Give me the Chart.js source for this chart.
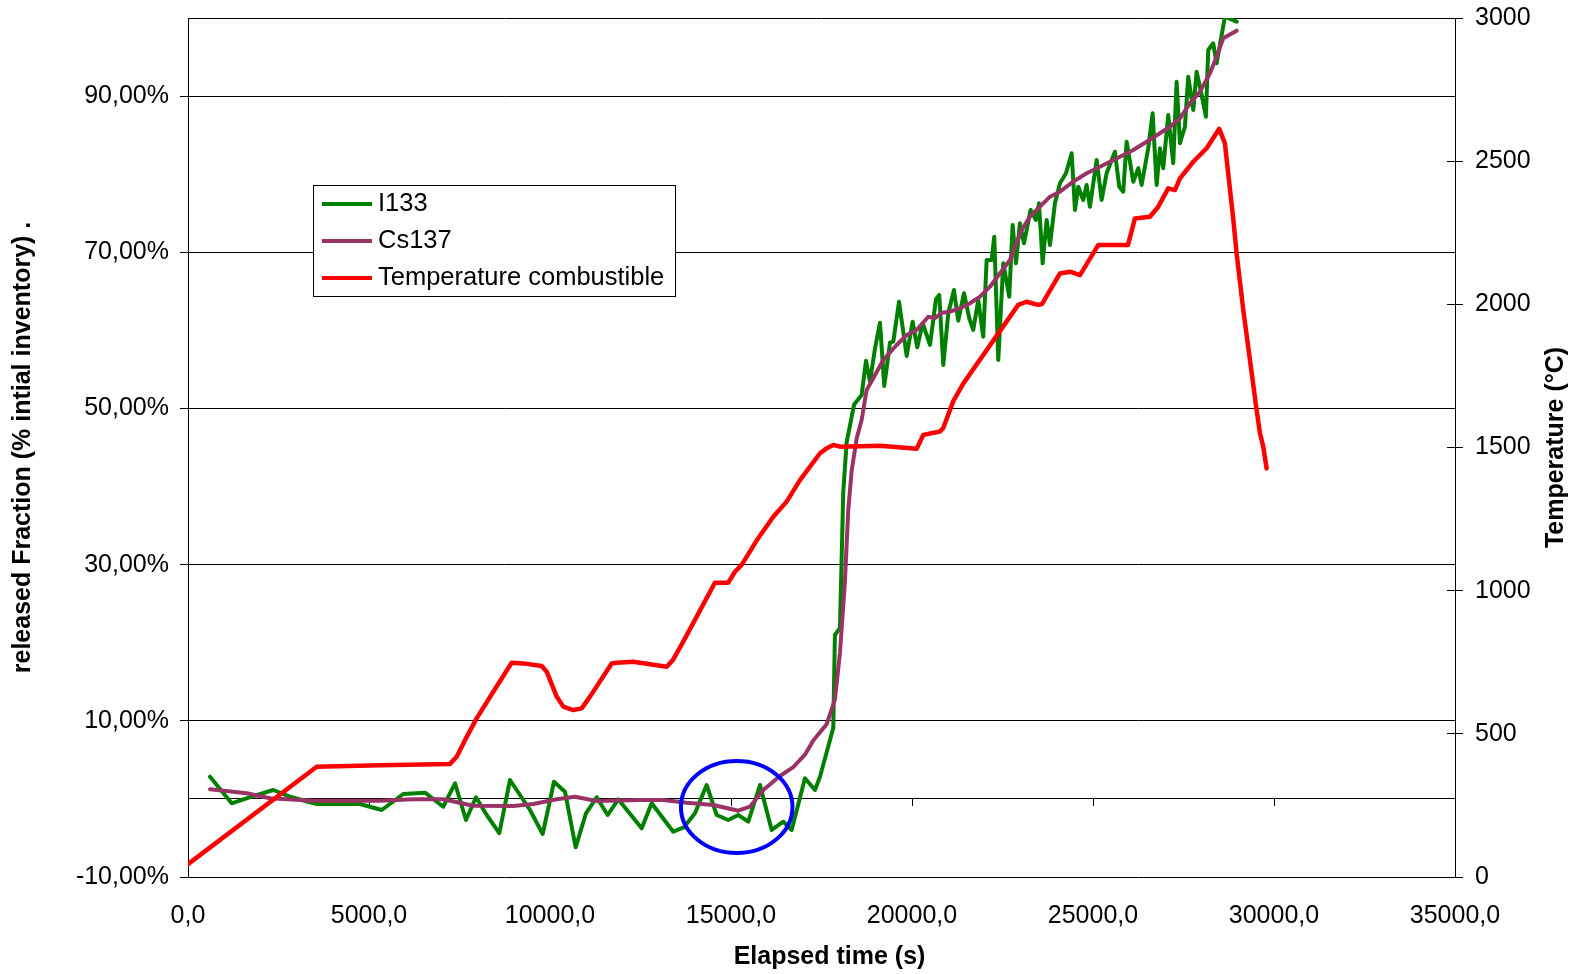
<!DOCTYPE html>
<html>
<head>
<meta charset="utf-8">
<script src="https://cdn.jsdelivr.net/npm/chart.js"></script>
<style>
html,body{margin:0;padding:0;background:#fff;}
#wrap{position:relative;width:1576px;height:974px;}
canvas{display:block;}
</style>
</head>
<body>
<div id="wrap"><canvas id="c" width="1576" height="974"></canvas></div>
<script>
// ---------- DATA ----------
const seriesNames = ['I133', 'Cs137', 'Temperature combustible'];

const i133Time = [608,1207,1760,2356,2818,3555,4751,5351,5947,6547,
  7052,7376,7679,7956,8251,8599,8895,9447,9798,10110,
  10414,10709,10994,11289,11593,11886,12532,12808,13405,13700,
  14005,14327,14604,14924,15200,15477,15801,16123,16444,16676,
  17043,17320,17458,17825,17871,18010,18101,18195,18400,18609,
  18729,18840,18978,19116,19234,19392,19483,19641,19853,20018,
  20145,20294,20497,20662,20753,20864,21002,21159,21278,21436,
  21582,21692,21830,21968,22062,22200,22272,22383,22521,22686,
  22780,22871,22982,23093,23277,23425,23508,23609,23720,23812,
  23949,24088,24254,24410,24502,24593,24730,24824,24915,25101,
  25239,25376,25605,25725,25835,25929,26112,26250,26343,26526,
  26647,26758,26849,26940,27078,27216,27310,27402,27539,27631,
  27770,27863,28001,28119,28183,28321,28415,28644,28968];
const i133Values = [2.84,-0.56,0.28,1.14,0.28,-0.65,-0.65,-1.42,0.63,0.80,
  -1.0,2.0,-2.70,0.21,-2.06,-4.37,2.42,-1.42,-4.49,2.2,
  0.92,-6.20,-1.84,0.21,-2.06,-0.05,-3.76,-0.56,-4.2,-3.64,
  -1.84,1.78,-2.06,-2.70,-2.06,-2.92,1.78,-3.98,-2.92,-3.98,
  2.64,1.14,2.84,9.09,20.99,21.9,39.29,45.69,50.5,51.73,
  56.12,53.43,57.7,60.98,52.88,58.42,58.55,63.67,56.72,61.11,
  57.83,60.91,58.13,63.98,64.53,55.57,62.19,65.17,61.24,64.75,
  61.55,60.05,63.89,59.19,69.01,69.01,72.0,56.21,68.59,64.31,
  73.5,68.59,73.71,71.15,75.42,74.14,76.27,68.59,74.14,70.93,
  76.27,78.84,80.12,82.68,75.42,78.4,76.7,78.62,75.84,81.82,
  76.7,80.12,82.88,78.4,77.76,84.16,79.04,80.76,78.62,83.32,
  87.8,78.62,83.32,80.76,87.58,81.4,91.85,83.96,86.08,92.49,
  88.22,93.13,90.14,87.36,95.9,96.76,94.2,100.17,99.53];

const cs137Time = [608,1622,2265,3461,5304,6224,7052,7881,8986,9538,
  10185,10690,11289,12486,13130,13775,14511,15200,15524,15892,
  16353,16720,17043,17272,17642,17871,18010,18147,18239,18333,
  18471,18609,18747,18930,19206,19576,19853,20128,20449,20634,
  20819,21048,21325,21602,21878,22154,22431,22707,22845,23029,
  23259,23536,23812,24088,24455,24824,25193,25469,25746,26112,
  26482,26849,27127,27402,27679,27955,28232,28415,28598,28968];
const cs137Values = [1.23,0.72,0.08,-0.23,-0.23,-0.05,-0.05,-0.87,-0.91,-0.65,
  -0.05,0.28,-0.27,-0.14,-0.14,-0.49,-0.78,-1.51,-1.0,1.14,
  2.93,4.07,5.67,7.49,9.55,12.76,18.7,27.85,37.0,42.03,
  46.14,48.52,52.37,53.86,56.21,58.13,59.41,60.05,61.75,61.55,
  62.26,62.39,62.83,63.47,64.31,65.59,67.31,69.01,70.72,72.86,
  74.56,75.84,77.12,77.76,79.04,80.12,80.96,81.6,82.24,83.1,
  84.16,85.24,86.08,87.16,89.08,90.57,92.92,95.05,97.4,98.38];

const tempTime = [0,3555,5300,7237,7422,7651,7974,8433,8941,9262,
  9770,9908,10185,10367,10644,10875,11105,11704,11842,12302,
  13223,13405,13681,14557,14925,15109,15294,15708,16168,16537,
  16905,17458,17642,17825,18010,19116,20128,20220,20311,20772,
  20864,21140,21420,22062,22934,23166,23487,23590,24088,24364,
  24640,25144,25744,25966,26158,26573,26803,27078,27263,27402,
  27770,28139,28487,28644,28735,28873,28967,29151,29335,29520,
  29612,29703,29796];
const tempValues = [45,385,390,395,420,478,554,647,748,746,
  737,717,630,595,583,589,630,746,748,752,
  734,760,822,1028,1028,1066,1090,1175,1258,1311,
  1386,1480,1497,1509,1503,1506,1496,1519,1544,1556,
  1568,1662,1724,1840,1998,2009,1998,2001,2108,2114,
  2102,2207,2207,2207,2300,2306,2341,2405,2399,2440,
  2498,2545,2613,2562,2458,2300,2178,1980,1806,1631,
  1550,1503,1427];

const xTickLabels = ['0,0','5000,0','10000,0','15000,0','20000,0','25000,0','30000,0','35000,0'];
const leftTickValues = [-10, 10, 30, 50, 70, 90];
const leftTickLabels = ['-10,00%','10,00%','30,00%','50,00%','70,00%','90,00%'];
const rightTickLabels = ['0','500','1000','1500','2000','2500','3000'];

const xTitle = 'Elapsed time (s)';
const leftTitle = 'released Fraction (% intial inventory) .';
const rightTitle = 'Temperature (\u00B0C)';

// highlighted region (data units): centre time, centre %, half-width s, half-height %
const highlight = {x: 15158, y: -1.04, rx: 1541, ry: 5.89};

// ---------- CHART ----------
const FONT = "'Liberation Sans', Arial, Helvetica, sans-serif";
Chart.defaults.font.family = FONT;
Chart.defaults.font.size = 25;
Chart.defaults.color = '#000';

const pts = (t, v) => t.map((x, i) => ({x: x, y: v[i]}));
const colors = ['#008000', '#993366', '#FF0000'];

const noPad = s => { s.paddingTop = 0; s.paddingBottom = 0; s.paddingLeft = 0; s.paddingRight = 0; };

const extras = {
  id: 'extras',
  afterDatasetsDraw(chart) {
    const {ctx, scales} = chart;
    const x = scales.x, y = scales.y;
    const cx = x.getPixelForValue(highlight.x);
    const cy = y.getPixelForValue(highlight.y);
    const rx = x.getPixelForValue(highlight.x + highlight.rx) - cx;
    const ry = cy - y.getPixelForValue(highlight.y + highlight.ry);
    ctx.save();
    ctx.beginPath();
    ctx.ellipse(cx, cy, rx, ry, 0, 0, Math.PI * 2);
    ctx.strokeStyle = '#0000FF';
    ctx.lineWidth = 4;
    ctx.stroke();
    ctx.restore();
  },
  afterDraw(chart) {
    const {ctx, chartArea} = chart;
    // legend box
    const lx = chartArea.left + 125, ly = chartArea.top + 167;
    const lw = 362, lh = 111;
    ctx.save();
    ctx.fillStyle = '#fff';
    ctx.fillRect(lx, ly, lw, lh);
    ctx.strokeStyle = '#000';
    ctx.lineWidth = 1;
    ctx.strokeRect(lx + 0.5, ly + 0.5, lw, lh);
    ctx.font = '25.5px ' + FONT;
    ctx.textBaseline = 'middle';
    ctx.textAlign = 'left';
    chart.data.datasets.forEach((ds, i) => {
      const yy = ly + 19 + i * 37;
      ctx.beginPath();
      ctx.moveTo(lx + 9, yy);
      ctx.lineTo(lx + 59, yy);
      ctx.strokeStyle = ds.borderColor;
      ctx.lineWidth = 4;
      ctx.stroke();
      ctx.fillStyle = '#000';
      ctx.fillText(ds.label, lx + 65, yy);
    });
    // x axis title
    ctx.font = 'bold 25px ' + FONT;
    ctx.textAlign = 'center';
    ctx.fillStyle = '#000';
    ctx.fillText(xTitle, (chartArea.left + chartArea.right) / 2 + 8, 957);
    // right axis title (reads bottom-to-top)
    ctx.translate(1556, (chartArea.top + chartArea.bottom) / 2);
    ctx.rotate(-Math.PI / 2);
    ctx.fillText(rightTitle, 0, 0);
    ctx.restore();
  }
};

new Chart(document.getElementById('c'), {
  type: 'line',
  data: {
    datasets: [
      {label: seriesNames[0], data: pts(i133Time, i133Values), borderColor: colors[0], borderWidth: 4, xAxisID: 'x', yAxisID: 'y', order: 3},
      {label: seriesNames[1], data: pts(cs137Time, cs137Values), borderColor: colors[1], borderWidth: 4, xAxisID: 'x', yAxisID: 'y', order: 2},
      {label: seriesNames[2], data: pts(tempTime, tempValues), borderColor: colors[2], borderWidth: 4.5, xAxisID: 'x', yAxisID: 'yT', order: 1}
    ]
  },
  options: {
    responsive: false,
    animation: false,
    devicePixelRatio: 1,
    layout: {padding: {top: 18, left: 0, right: 0, bottom: 0}},
    elements: {
      point: {radius: 0, hoverRadius: 0},
      line: {tension: 0, fill: false, borderJoinStyle: 'round', borderCapStyle: 'round'}
    },
    plugins: {legend: {display: false}, tooltip: {enabled: false}},
    scales: {
      x: {
        type: 'linear', axis: 'x', position: 'bottom', min: 0, max: 35000,
        ticks: {stepSize: 5000, autoSkip: false, maxRotation: 0, minRotation: 0, padding: 24,
          callback: (v, i) => xTickLabels[i]},
        grid: {display: false, drawTicks: false, tickLength: 0},
        border: {display: false},
        afterFit: s => { s.height = 97; noPad(s); }
      },
      x0: {
        type: 'linear', axis: 'x', position: {y: 0}, min: 0, max: 35000,
        ticks: {stepSize: 5000, display: false},
        grid: {drawOnChartArea: false, drawTicks: true, tickLength: 7, tickColor: '#000', tickWidth: 1},
        border: {display: true, color: '#000', width: 1},
        afterFit: s => { s.height = 0; noPad(s); }
      },
      y: {
        type: 'linear', axis: 'y', position: 'left', min: -10, max: 100,
        afterBuildTicks: s => { s.ticks = leftTickValues.map(v => ({value: v})); },
        ticks: {padding: 11, callback: (v, i) => leftTickLabels[i]},
        grid: {color: '#000', lineWidth: 1, drawTicks: true, tickLength: 8, tickColor: '#000'},
        border: {display: true, color: '#000', width: 1},
        title: {display: true, text: leftTitle, font: {weight: 'bold', size: 25}, padding: {top: 8, bottom: 0}},
        afterFit: s => { s.width = 188; noPad(s); }
      },
      yT: {
        type: 'linear', axis: 'y', position: 'right', min: 0, max: 3000,
        ticks: {stepSize: 500, padding: 12, callback: (v, i) => rightTickLabels[i]},
        grid: {
          drawOnChartArea: true,
          color: c => (c.tick && c.tick.value === 3000) ? '#000' : 'rgba(0,0,0,0)',
          tickColor: '#000', tickLength: 8, drawTicks: true
        },
        border: {display: true, color: '#000', width: 1},
        afterFit: s => { s.width = 121; noPad(s); }
      },
      yTin: {
        type: 'linear', axis: 'y', position: 'right', weight: -1, min: 0, max: 3000,
        ticks: {stepSize: 500, display: false},
        grid: {drawOnChartArea: false, drawTicks: true, tickLength: -8, tickColor: '#000', tickWidth: 1},
        border: {display: false},
        afterFit: s => { s.width = 0; noPad(s); }
      }
    }
  },
  plugins: [extras]
});
</script>
</body>
</html>
